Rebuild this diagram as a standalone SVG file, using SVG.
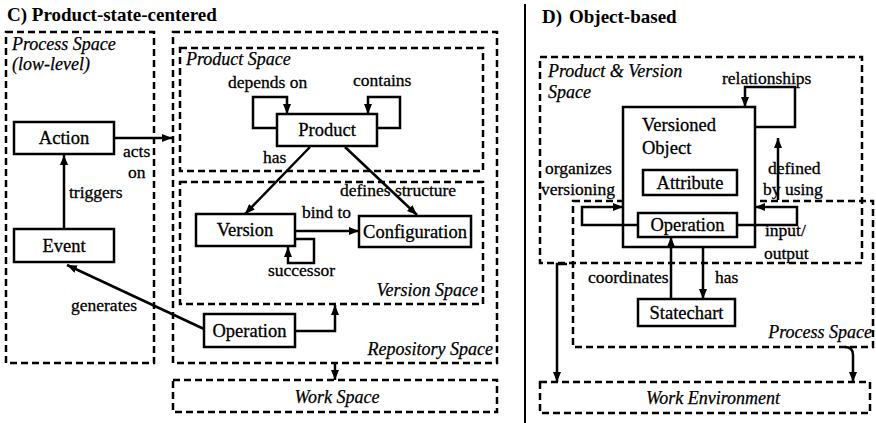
<svg xmlns="http://www.w3.org/2000/svg" width="876" height="423" viewBox="0 0 876 423" font-family="'Liberation Serif', Tinos, 'Times New Roman', 'DejaVu Serif', serif">
  <defs>
    <marker id="arrow" viewBox="0 0 10 8" refX="10" refY="4" markerWidth="10" markerHeight="8" markerUnits="userSpaceOnUse" orient="auto">
      <path d="M0,0 L10,4 L0,8 z" fill="#000"/>
    </marker>
  </defs>
  <style>
    text { font-family: 'Liberation Serif', Tinos, 'Times New Roman', 'DejaVu Serif', serif; }
    .title { font-size: 19px; font-weight: bold; fill: #000; }
    .node rect { fill: #fff; stroke: #000; stroke-width: 2.5; }
    .node text { font-size: 18.5px; fill: #000; stroke: #000; stroke-width: 0.3; text-anchor: middle; }
    .node text.left { text-anchor: start; }
    .space { fill: none; stroke: #000; stroke-width: 2.5; stroke-dasharray: 7 4; }
    .space-label { font-size: 18px; font-style: italic; fill: #000; stroke: #000; stroke-width: 0.25; }
    .edge { fill: none; stroke: #000; stroke-width: 2.5; }
    .edge-label { font-size: 17.5px; fill: #000; stroke: #000; stroke-width: 0.3; }
  </style>
  <rect width="876" height="423" fill="#fff"/>

  <!-- Panel titles and divider -->
  <text class="title" x="7" y="21">C) Product-state-centered</text>
  <text class="title" x="542" y="23">D)</text>
  <text class="title" x="569" y="23">Object-based</text>
  <line x1="525" y1="4" x2="525" y2="423" stroke="#000" stroke-width="2"/>

  <!-- Left panel: spaces -->
  <g id="process-space-low">
    <rect class="space" x="6" y="32" width="148" height="331"/>
    <text class="space-label" x="12" y="50">Process Space</text>
    <text class="space-label" x="12" y="70">(low-level)</text>
  </g>
  <g id="repository-space">
    <rect class="space" x="173" y="32" width="324" height="331"/>
    <text class="space-label" x="493" y="355" text-anchor="end">Repository Space</text>
  </g>
  <g id="product-space">
    <rect class="space" x="180" y="48" width="303" height="123"/>
    <text class="space-label" x="186" y="65">Product Space</text>
  </g>
  <g id="version-space">
    <rect class="space" x="180" y="182" width="303" height="122"/>
    <text class="space-label" x="478" y="296" text-anchor="end">Version Space</text>
  </g>
  <g id="work-space">
    <rect class="space" x="173" y="380" width="324" height="32"/>
    <text class="space-label" x="337" y="403" text-anchor="middle">Work Space</text>
  </g>

  <!-- Left panel: nodes -->
  <g id="action" class="node">
    <rect x="14" y="122" width="100" height="32"/>
    <text x="64" y="144">Action</text>
  </g>
  <g id="event" class="node">
    <rect x="14" y="229" width="100" height="33"/>
    <text x="64" y="252">Event</text>
  </g>
  <g id="product" class="node">
    <rect x="277" y="114" width="100" height="32"/>
    <text x="327" y="136">Product</text>
  </g>
  <g id="version" class="node">
    <rect x="196" y="214" width="99" height="32"/>
    <text x="245" y="236">Version</text>
  </g>
  <g id="configuration" class="node">
    <rect x="359" y="216" width="112" height="31"/>
    <text x="415" y="238">Configuration</text>
  </g>
  <g id="operation-c" class="node">
    <rect x="204" y="314" width="91" height="33"/>
    <text x="249.500" y="337">Operation</text>
  </g>

  <!-- Right panel: spaces -->
  <g id="product-version-space">
    <rect class="space" x="540" y="57" width="322" height="206"/>
    <text class="space-label" x="548" y="77">Product &amp; Version</text>
    <text class="space-label" x="548" y="98">Space</text>
  </g>
  <g id="process-space">
    <rect class="space" x="573" y="201" width="300" height="146"/>
    <text class="space-label" x="872" y="338" text-anchor="end">Process Space</text>
  </g>
  <g id="work-environment">
    <rect class="space" x="540" y="382" width="330" height="31"/>
    <text class="space-label" x="713" y="404" text-anchor="middle">Work Environment</text>
  </g>

  <!-- Right panel: nodes -->
  <g id="versioned-object" class="node">
    <rect x="623" y="107" width="132" height="140"/>
    <text class="left" x="642" y="131">Versioned</text>
    <text class="left" x="642" y="154">Object</text>
  </g>
  <g id="attribute" class="node">
    <rect x="643" y="170" width="94" height="25"/>
    <text x="690" y="189">Attribute</text>
  </g>
  <g id="operation-d" class="node">
    <rect x="638" y="213" width="99" height="24"/>
    <text x="687.500" y="231">Operation</text>
  </g>
  <g id="statechart" class="node">
    <rect x="638" y="299" width="97" height="27"/>
    <text x="686.500" y="319">Statechart</text>
  </g>

  <!-- Connectors -->
  <g id="connectors">
    <!-- left panel -->
    <path class="edge" d="M114,138 H172" marker-end="url(#arrow)"/>
    <path class="edge" d="M64,229 V155" marker-end="url(#arrow)"/>
    <path class="edge" d="M204,329 L67,265" marker-end="url(#arrow)"/>
    <path class="edge" d="M295,331 H335 V305" marker-end="url(#arrow)"/>
    <path class="edge" d="M310,147 L245,214" marker-end="url(#arrow)"/>
    <path class="edge" d="M345,147 L417,215" marker-end="url(#arrow)"/>
    <path class="edge" d="M295,231 H359" marker-end="url(#arrow)"/>
    <path class="edge" d="M295,239 H314 V263 H288 V247" marker-end="url(#arrow)"/>
    <path class="edge" d="M277,128 H253 V97 H287 V114" marker-end="url(#arrow)"/>
    <path class="edge" d="M377,128 H400 V97 H368 V114" marker-end="url(#arrow)"/>
    <path class="edge" d="M335,363 V380" marker-end="url(#arrow)"/>
    <!-- right panel -->
    <path class="edge" d="M755,127 H795 V87 H745 V107" marker-end="url(#arrow)"/>
    <path class="edge" d="M778,200 V138" marker-end="url(#arrow)"/>
    <path class="edge" d="M737,225 H797 V207 H755" marker-end="url(#arrow)"/>
    <path class="edge" d="M638,225 H582 V207 H623" marker-end="url(#arrow)"/>
    <path class="edge" d="M671,299 V237" marker-end="url(#arrow)"/>
    <path class="edge" d="M703,247 V299" marker-end="url(#arrow)"/>
    <path class="edge" d="M567,264 H557 V382" marker-end="url(#arrow)"/>
    <path class="edge" d="M845,347 Q853,347 853,355 V382" marker-end="url(#arrow)"/>

    <!-- connector labels -->
    <text class="edge-label" x="123" y="157">acts</text>
    <text class="edge-label" x="128" y="178">on</text>
    <text class="edge-label" x="69" y="198">triggers</text>
    <text class="edge-label" x="71" y="311">generates</text>
    <text class="edge-label" x="228" y="88">depends on</text>
    <text class="edge-label" x="353" y="86">contains</text>
    <text class="edge-label" x="263" y="163">has</text>
    <text class="edge-label" x="340" y="196">defines structure</text>
    <text class="edge-label" x="302" y="218">bind to</text>
    <text class="edge-label" x="268" y="276">successor</text>
    <text class="edge-label" x="722" y="84">relationships</text>
    <text class="edge-label" x="768" y="174">defined</text>
    <text class="edge-label" x="763" y="195">by using</text>
    <text class="edge-label" x="545" y="174">organizes</text>
    <text class="edge-label" x="541" y="195">versioning</text>
    <text class="edge-label" x="765" y="236">input/</text>
    <text class="edge-label" x="764" y="259">output</text>
    <text class="edge-label" x="588" y="283">coordinates</text>
    <text class="edge-label" x="715" y="283">has</text>
  </g>
</svg>
